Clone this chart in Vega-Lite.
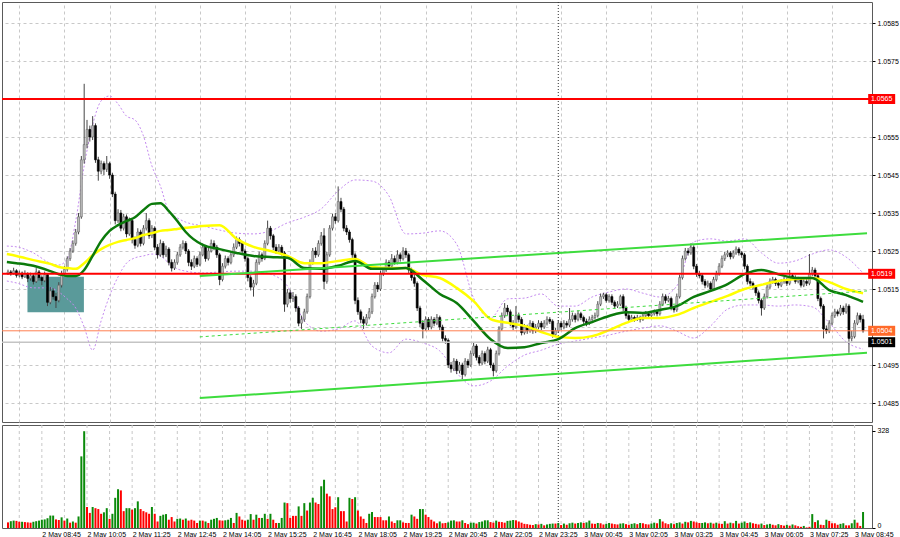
{
"$schema":"https://vega.github.io/schema/vega-lite/v6.json",
"background":"#ffffff",
"padding":{"left":0,"right":0,"top":1,"bottom":0},
"spacing":1,
"resolve":{"scale":{"x":"independent"},"axis":{"x":"independent"}},
"config":{"view":{"stroke":"#5a5a5a","strokeWidth":1},"font":"Liberation Sans"},
"datasets":{
"k":[
{"t":"2022-05-02T07:45","o":1.0519,"h":1.05201,"l":1.05187,"c":1.05195,"v":19,"d":"r"},
{"t":"2022-05-02T07:50","o":1.05195,"h":1.052,"l":1.05185,"c":1.0519,"v":23,"d":"g"},
{"t":"2022-05-02T07:55","o":1.0519,"h":1.05206,"l":1.05188,"c":1.05198,"v":25,"d":"g"},
{"t":"2022-05-02T08:00","o":1.05198,"h":1.05202,"l":1.0518,"c":1.05186,"v":24,"d":"r"},
{"t":"2022-05-02T08:05","o":1.05186,"h":1.05198,"l":1.05181,"c":1.05192,"v":21,"d":"r"},
{"t":"2022-05-02T08:10","o":1.05192,"h":1.05196,"l":1.05176,"c":1.05182,"v":21,"d":"g"},
{"t":"2022-05-02T08:15","o":1.05182,"h":1.05199,"l":1.05179,"c":1.0519,"v":20,"d":"r"},
{"t":"2022-05-02T08:20","o":1.0519,"h":1.05194,"l":1.05168,"c":1.05178,"v":19,"d":"r"},
{"t":"2022-05-02T08:25","o":1.05178,"h":1.05193,"l":1.05172,"c":1.05185,"v":18,"d":"r"},
{"t":"2022-05-02T08:30","o":1.05185,"h":1.0519,"l":1.05162,"c":1.0517,"v":21,"d":"g"},
{"t":"2022-05-02T08:35","o":1.0517,"h":1.05205,"l":1.05166,"c":1.05195,"v":23,"d":"g"},
{"t":"2022-05-02T08:40","o":1.05195,"h":1.052,"l":1.05172,"c":1.0518,"v":25,"d":"g"},
{"t":"2022-05-02T08:45","o":1.0518,"h":1.05186,"l":1.0516,"c":1.05172,"v":28,"d":"g"},
{"t":"2022-05-02T08:50","o":1.05172,"h":1.05196,"l":1.05168,"c":1.05188,"v":29,"d":"g"},
{"t":"2022-05-02T08:55","o":1.05188,"h":1.05192,"l":1.05105,"c":1.05115,"v":33,"d":"g"},
{"t":"2022-05-02T09:00","o":1.05115,"h":1.05155,"l":1.0511,"c":1.05145,"v":42,"d":"g"},
{"t":"2022-05-02T09:05","o":1.05145,"h":1.05152,"l":1.05122,"c":1.0513,"v":42,"d":"g"},
{"t":"2022-05-02T09:10","o":1.0513,"h":1.0514,"l":1.051,"c":1.0512,"v":29,"d":"r"},
{"t":"2022-05-02T09:15","o":1.0512,"h":1.05168,"l":1.05115,"c":1.0516,"v":27,"d":"r"},
{"t":"2022-05-02T09:20","o":1.0516,"h":1.05198,"l":1.05154,"c":1.0519,"v":36,"d":"g"},
{"t":"2022-05-02T09:25","o":1.0519,"h":1.0521,"l":1.05184,"c":1.05202,"v":25,"d":"r"},
{"t":"2022-05-02T09:30","o":1.05202,"h":1.05236,"l":1.05196,"c":1.0523,"v":32,"d":"g"},
{"t":"2022-05-02T09:35","o":1.0523,"h":1.05258,"l":1.05224,"c":1.0525,"v":18,"d":"r"},
{"t":"2022-05-02T09:40","o":1.0525,"h":1.05278,"l":1.05245,"c":1.0527,"v":22,"d":"g"},
{"t":"2022-05-02T09:45","o":1.0527,"h":1.05308,"l":1.05264,"c":1.053,"v":18,"d":"r"},
{"t":"2022-05-02T09:50","o":1.053,"h":1.0535,"l":1.05294,"c":1.0534,"v":39,"d":"g"},
{"t":"2022-05-02T09:55","o":1.0534,"h":1.055,"l":1.05335,"c":1.0549,"v":242,"d":"g"},
{"t":"2022-05-02T10:00","o":1.0549,"h":1.0569,"l":1.0548,"c":1.0553,"v":327,"d":"g"},
{"t":"2022-05-02T10:05","o":1.0553,"h":1.05595,"l":1.0552,"c":1.0557,"v":71,"d":"r"},
{"t":"2022-05-02T10:10","o":1.0557,"h":1.0558,"l":1.05538,"c":1.0555,"v":51,"d":"r"},
{"t":"2022-05-02T10:15","o":1.0555,"h":1.05605,"l":1.05542,"c":1.0558,"v":71,"d":"g"},
{"t":"2022-05-02T10:20","o":1.0558,"h":1.05586,"l":1.05482,"c":1.0549,"v":67,"d":"r"},
{"t":"2022-05-02T10:25","o":1.0549,"h":1.05498,"l":1.05435,"c":1.0546,"v":64,"d":"r"},
{"t":"2022-05-02T10:30","o":1.0546,"h":1.05488,"l":1.05452,"c":1.0548,"v":48,"d":"r"},
{"t":"2022-05-02T10:35","o":1.0548,"h":1.05486,"l":1.0545,"c":1.05465,"v":53,"d":"g"},
{"t":"2022-05-02T10:40","o":1.05465,"h":1.055,"l":1.05458,"c":1.0548,"v":67,"d":"g"},
{"t":"2022-05-02T10:45","o":1.0548,"h":1.05485,"l":1.0544,"c":1.0545,"v":31,"d":"r"},
{"t":"2022-05-02T10:50","o":1.0545,"h":1.05456,"l":1.05392,"c":1.054,"v":48,"d":"g"},
{"t":"2022-05-02T10:55","o":1.054,"h":1.05406,"l":1.0532,"c":1.0533,"v":102,"d":"g"},
{"t":"2022-05-02T11:00","o":1.0533,"h":1.0536,"l":1.05324,"c":1.0535,"v":131,"d":"g"},
{"t":"2022-05-02T11:05","o":1.0535,"h":1.05358,"l":1.05302,"c":1.0531,"v":127,"d":"r"},
{"t":"2022-05-02T11:10","o":1.0531,"h":1.05348,"l":1.05304,"c":1.0534,"v":57,"d":"r"},
{"t":"2022-05-02T11:15","o":1.0534,"h":1.05346,"l":1.05286,"c":1.05295,"v":67,"d":"g"},
{"t":"2022-05-02T11:20","o":1.05295,"h":1.05338,"l":1.0529,"c":1.0533,"v":67,"d":"g"},
{"t":"2022-05-02T11:25","o":1.0533,"h":1.05335,"l":1.0527,"c":1.0528,"v":62,"d":"r"},
{"t":"2022-05-02T11:30","o":1.0528,"h":1.05288,"l":1.05256,"c":1.05265,"v":67,"d":"g"},
{"t":"2022-05-02T11:35","o":1.05265,"h":1.0531,"l":1.0526,"c":1.053,"v":90,"d":"g"},
{"t":"2022-05-02T11:40","o":1.053,"h":1.05306,"l":1.05262,"c":1.0527,"v":64,"d":"r"},
{"t":"2022-05-02T11:45","o":1.0527,"h":1.05318,"l":1.05265,"c":1.0531,"v":57,"d":"r"},
{"t":"2022-05-02T11:50","o":1.0531,"h":1.0535,"l":1.05304,"c":1.0533,"v":53,"d":"r"},
{"t":"2022-05-02T11:55","o":1.0533,"h":1.05336,"l":1.05282,"c":1.0529,"v":48,"d":"r"},
{"t":"2022-05-02T12:00","o":1.0529,"h":1.05318,"l":1.05284,"c":1.0531,"v":71,"d":"g"},
{"t":"2022-05-02T12:05","o":1.0531,"h":1.05315,"l":1.05252,"c":1.0526,"v":48,"d":"r"},
{"t":"2022-05-02T12:10","o":1.0526,"h":1.05268,"l":1.0523,"c":1.0524,"v":22,"d":"r"},
{"t":"2022-05-02T12:15","o":1.0524,"h":1.0528,"l":1.05235,"c":1.0527,"v":41,"d":"g"},
{"t":"2022-05-02T12:20","o":1.0527,"h":1.05276,"l":1.05232,"c":1.0524,"v":45,"d":"g"},
{"t":"2022-05-02T12:25","o":1.0524,"h":1.05264,"l":1.05234,"c":1.05255,"v":47,"d":"g"},
{"t":"2022-05-02T12:30","o":1.05255,"h":1.0526,"l":1.05212,"c":1.0522,"v":28,"d":"r"},
{"t":"2022-05-02T12:35","o":1.0522,"h":1.05228,"l":1.05196,"c":1.05205,"v":37,"d":"r"},
{"t":"2022-05-02T12:40","o":1.05205,"h":1.05228,"l":1.052,"c":1.0522,"v":22,"d":"r"},
{"t":"2022-05-02T12:45","o":1.0522,"h":1.05248,"l":1.05214,"c":1.0524,"v":31,"d":"g"},
{"t":"2022-05-02T12:50","o":1.0524,"h":1.05268,"l":1.05235,"c":1.0526,"v":32,"d":"g"},
{"t":"2022-05-02T12:55","o":1.0526,"h":1.05278,"l":1.05254,"c":1.0527,"v":28,"d":"r"},
{"t":"2022-05-02T13:00","o":1.0527,"h":1.05276,"l":1.05242,"c":1.0525,"v":32,"d":"g"},
{"t":"2022-05-02T13:05","o":1.0525,"h":1.05255,"l":1.0521,"c":1.0522,"v":25,"d":"r"},
{"t":"2022-05-02T13:10","o":1.0522,"h":1.05228,"l":1.052,"c":1.0521,"v":28,"d":"r"},
{"t":"2022-05-02T13:15","o":1.0521,"h":1.05238,"l":1.05205,"c":1.0523,"v":25,"d":"r"},
{"t":"2022-05-02T13:20","o":1.0523,"h":1.05236,"l":1.05208,"c":1.05215,"v":17,"d":"r"},
{"t":"2022-05-02T13:25","o":1.05215,"h":1.05248,"l":1.0521,"c":1.0524,"v":25,"d":"g"},
{"t":"2022-05-02T13:30","o":1.0524,"h":1.0527,"l":1.05236,"c":1.0526,"v":25,"d":"r"},
{"t":"2022-05-02T13:35","o":1.0526,"h":1.05265,"l":1.05222,"c":1.0523,"v":22,"d":"g"},
{"t":"2022-05-02T13:40","o":1.0523,"h":1.05258,"l":1.05225,"c":1.0525,"v":17,"d":"r"},
{"t":"2022-05-02T13:45","o":1.0525,"h":1.0528,"l":1.05246,"c":1.0527,"v":28,"d":"g"},
{"t":"2022-05-02T13:50","o":1.0527,"h":1.05278,"l":1.05252,"c":1.0526,"v":31,"d":"g"},
{"t":"2022-05-02T13:55","o":1.0526,"h":1.05266,"l":1.05232,"c":1.0524,"v":34,"d":"g"},
{"t":"2022-05-02T14:00","o":1.0524,"h":1.05245,"l":1.0516,"c":1.05175,"v":26,"d":"r"},
{"t":"2022-05-02T14:05","o":1.05175,"h":1.05218,"l":1.0517,"c":1.0521,"v":25,"d":"r"},
{"t":"2022-05-02T14:10","o":1.0521,"h":1.05238,"l":1.05204,"c":1.0523,"v":26,"d":"g"},
{"t":"2022-05-02T14:15","o":1.0523,"h":1.05236,"l":1.05212,"c":1.0522,"v":28,"d":"g"},
{"t":"2022-05-02T14:20","o":1.0522,"h":1.05248,"l":1.05215,"c":1.0524,"v":34,"d":"g"},
{"t":"2022-05-02T14:25","o":1.0524,"h":1.0527,"l":1.05234,"c":1.0526,"v":17,"d":"r"},
{"t":"2022-05-02T14:30","o":1.0526,"h":1.05288,"l":1.05255,"c":1.0528,"v":51,"d":"g"},
{"t":"2022-05-02T14:35","o":1.0528,"h":1.05286,"l":1.05262,"c":1.0527,"v":39,"d":"r"},
{"t":"2022-05-02T14:40","o":1.0527,"h":1.05275,"l":1.05242,"c":1.0525,"v":28,"d":"r"},
{"t":"2022-05-02T14:45","o":1.0525,"h":1.05256,"l":1.05222,"c":1.0523,"v":25,"d":"r"},
{"t":"2022-05-02T14:50","o":1.0523,"h":1.05235,"l":1.0517,"c":1.0518,"v":28,"d":"g"},
{"t":"2022-05-02T14:55","o":1.0518,"h":1.05186,"l":1.05146,"c":1.05155,"v":47,"d":"g"},
{"t":"2022-05-02T15:00","o":1.05155,"h":1.05174,"l":1.0513,"c":1.05165,"v":28,"d":"r"},
{"t":"2022-05-02T15:05","o":1.05165,"h":1.05228,"l":1.0516,"c":1.0522,"v":45,"d":"g"},
{"t":"2022-05-02T15:10","o":1.0522,"h":1.05248,"l":1.05214,"c":1.0524,"v":34,"d":"r"},
{"t":"2022-05-02T15:15","o":1.0524,"h":1.05246,"l":1.05222,"c":1.0523,"v":34,"d":"g"},
{"t":"2022-05-02T15:20","o":1.0523,"h":1.05278,"l":1.05226,"c":1.0527,"v":48,"d":"g"},
{"t":"2022-05-02T15:25","o":1.0527,"h":1.0533,"l":1.05265,"c":1.0531,"v":31,"d":"r"},
{"t":"2022-05-02T15:30","o":1.0531,"h":1.05316,"l":1.0528,"c":1.0529,"v":48,"d":"g"},
{"t":"2022-05-02T15:35","o":1.0529,"h":1.05295,"l":1.05252,"c":1.0526,"v":28,"d":"r"},
{"t":"2022-05-02T15:40","o":1.0526,"h":1.05268,"l":1.05242,"c":1.0525,"v":17,"d":"r"},
{"t":"2022-05-02T15:45","o":1.0525,"h":1.05268,"l":1.05244,"c":1.0526,"v":17,"d":"g"},
{"t":"2022-05-02T15:50","o":1.0526,"h":1.05266,"l":1.05238,"c":1.05245,"v":34,"d":"g"},
{"t":"2022-05-02T15:55","o":1.05245,"h":1.0525,"l":1.0509,"c":1.0511,"v":86,"d":"g"},
{"t":"2022-05-02T16:00","o":1.0511,"h":1.0515,"l":1.05102,"c":1.0514,"v":84,"d":"r"},
{"t":"2022-05-02T16:05","o":1.0514,"h":1.05148,"l":1.05114,"c":1.05125,"v":34,"d":"r"},
{"t":"2022-05-02T16:10","o":1.05125,"h":1.05142,"l":1.05116,"c":1.0513,"v":41,"d":"r"},
{"t":"2022-05-02T16:15","o":1.0513,"h":1.05136,"l":1.0509,"c":1.051,"v":41,"d":"r"},
{"t":"2022-05-02T16:20","o":1.051,"h":1.05105,"l":1.05052,"c":1.0506,"v":73,"d":"g"},
{"t":"2022-05-02T16:25","o":1.0506,"h":1.0508,"l":1.05045,"c":1.0507,"v":41,"d":"r"},
{"t":"2022-05-02T16:30","o":1.0507,"h":1.05098,"l":1.05064,"c":1.0509,"v":84,"d":"g"},
{"t":"2022-05-02T16:35","o":1.0509,"h":1.05138,"l":1.05085,"c":1.0513,"v":59,"d":"r"},
{"t":"2022-05-02T16:40","o":1.0513,"h":1.05228,"l":1.05125,"c":1.0522,"v":86,"d":"g"},
{"t":"2022-05-02T16:45","o":1.0522,"h":1.05258,"l":1.05214,"c":1.0525,"v":102,"d":"g"},
{"t":"2022-05-02T16:50","o":1.0525,"h":1.0526,"l":1.05232,"c":1.0524,"v":86,"d":"r"},
{"t":"2022-05-02T16:55","o":1.0524,"h":1.05278,"l":1.05235,"c":1.0527,"v":81,"d":"r"},
{"t":"2022-05-02T17:00","o":1.0527,"h":1.053,"l":1.05264,"c":1.0529,"v":141,"d":"g"},
{"t":"2022-05-02T17:05","o":1.0529,"h":1.0531,"l":1.0515,"c":1.0517,"v":163,"d":"g"},
{"t":"2022-05-02T17:10","o":1.0517,"h":1.05248,"l":1.05164,"c":1.0524,"v":116,"d":"r"},
{"t":"2022-05-02T17:15","o":1.0524,"h":1.05318,"l":1.05235,"c":1.0531,"v":107,"d":"r"},
{"t":"2022-05-02T17:20","o":1.0531,"h":1.05348,"l":1.05304,"c":1.0534,"v":64,"d":"r"},
{"t":"2022-05-02T17:25","o":1.0534,"h":1.0535,"l":1.05322,"c":1.0533,"v":70,"d":"r"},
{"t":"2022-05-02T17:30","o":1.0533,"h":1.0542,"l":1.05325,"c":1.0538,"v":104,"d":"g"},
{"t":"2022-05-02T17:35","o":1.0538,"h":1.0539,"l":1.05352,"c":1.0536,"v":57,"d":"r"},
{"t":"2022-05-02T17:40","o":1.0536,"h":1.05366,"l":1.05302,"c":1.0531,"v":57,"d":"r"},
{"t":"2022-05-02T17:45","o":1.0531,"h":1.05318,"l":1.05292,"c":1.053,"v":22,"d":"r"},
{"t":"2022-05-02T17:50","o":1.053,"h":1.05306,"l":1.05272,"c":1.0528,"v":102,"d":"g"},
{"t":"2022-05-02T17:55","o":1.0528,"h":1.05285,"l":1.05232,"c":1.0524,"v":98,"d":"r"},
{"t":"2022-05-02T18:00","o":1.0524,"h":1.05246,"l":1.0511,"c":1.0512,"v":104,"d":"g"},
{"t":"2022-05-02T18:05","o":1.0512,"h":1.05128,"l":1.05082,"c":1.0509,"v":59,"d":"r"},
{"t":"2022-05-02T18:10","o":1.0509,"h":1.05096,"l":1.0506,"c":1.0507,"v":39,"d":"r"},
{"t":"2022-05-02T18:15","o":1.0507,"h":1.05078,"l":1.05045,"c":1.0506,"v":31,"d":"r"},
{"t":"2022-05-02T18:20","o":1.0506,"h":1.05084,"l":1.05054,"c":1.05075,"v":17,"d":"r"},
{"t":"2022-05-02T18:25","o":1.05075,"h":1.051,"l":1.0507,"c":1.0509,"v":48,"d":"g"},
{"t":"2022-05-02T18:30","o":1.0509,"h":1.05138,"l":1.05084,"c":1.0513,"v":54,"d":"g"},
{"t":"2022-05-02T18:35","o":1.0513,"h":1.05168,"l":1.05125,"c":1.0516,"v":37,"d":"r"},
{"t":"2022-05-02T18:40","o":1.0516,"h":1.05168,"l":1.05142,"c":1.0515,"v":37,"d":"r"},
{"t":"2022-05-02T18:45","o":1.0515,"h":1.05198,"l":1.05145,"c":1.0519,"v":37,"d":"r"},
{"t":"2022-05-02T18:50","o":1.0519,"h":1.05208,"l":1.05184,"c":1.052,"v":26,"d":"r"},
{"t":"2022-05-02T18:55","o":1.052,"h":1.05228,"l":1.05195,"c":1.0522,"v":26,"d":"r"},
{"t":"2022-05-02T19:00","o":1.0522,"h":1.05226,"l":1.05202,"c":1.0521,"v":39,"d":"g"},
{"t":"2022-05-02T19:05","o":1.0521,"h":1.05242,"l":1.05205,"c":1.0523,"v":22,"d":"r"},
{"t":"2022-05-02T19:10","o":1.0523,"h":1.05238,"l":1.05214,"c":1.0522,"v":17,"d":"r"},
{"t":"2022-05-02T19:15","o":1.0522,"h":1.05252,"l":1.05215,"c":1.0524,"v":26,"d":"g"},
{"t":"2022-05-02T19:20","o":1.0524,"h":1.05246,"l":1.05222,"c":1.0523,"v":26,"d":"g"},
{"t":"2022-05-02T19:25","o":1.0523,"h":1.0526,"l":1.05225,"c":1.0525,"v":19,"d":"r"},
{"t":"2022-05-02T19:30","o":1.0525,"h":1.05258,"l":1.05232,"c":1.0524,"v":17,"d":"r"},
{"t":"2022-05-02T19:35","o":1.0524,"h":1.05245,"l":1.05192,"c":1.052,"v":17,"d":"r"},
{"t":"2022-05-02T19:40","o":1.052,"h":1.05206,"l":1.05172,"c":1.0518,"v":45,"d":"g"},
{"t":"2022-05-02T19:45","o":1.0518,"h":1.05188,"l":1.05156,"c":1.05165,"v":39,"d":"r"},
{"t":"2022-05-02T19:50","o":1.05165,"h":1.0517,"l":1.05092,"c":1.051,"v":31,"d":"r"},
{"t":"2022-05-02T19:55","o":1.051,"h":1.05106,"l":1.0505,"c":1.0506,"v":64,"d":"g"},
{"t":"2022-05-02T20:00","o":1.0506,"h":1.05068,"l":1.0502,"c":1.05045,"v":64,"d":"g"},
{"t":"2022-05-02T20:05","o":1.05045,"h":1.05078,"l":1.0504,"c":1.0507,"v":45,"d":"r"},
{"t":"2022-05-02T20:10","o":1.0507,"h":1.05076,"l":1.05042,"c":1.0505,"v":37,"d":"r"},
{"t":"2022-05-02T20:15","o":1.0505,"h":1.05078,"l":1.05044,"c":1.0507,"v":28,"d":"r"},
{"t":"2022-05-02T20:20","o":1.0507,"h":1.05076,"l":1.05052,"c":1.0506,"v":22,"d":"r"},
{"t":"2022-05-02T20:25","o":1.0506,"h":1.05084,"l":1.05055,"c":1.05075,"v":16,"d":"r"},
{"t":"2022-05-02T20:30","o":1.05075,"h":1.0508,"l":1.05042,"c":1.0505,"v":22,"d":"g"},
{"t":"2022-05-02T20:35","o":1.0505,"h":1.05056,"l":1.05012,"c":1.0502,"v":16,"d":"r"},
{"t":"2022-05-02T20:40","o":1.0502,"h":1.05028,"l":1.05006,"c":1.05015,"v":17,"d":"r"},
{"t":"2022-05-02T20:45","o":1.05015,"h":1.0502,"l":1.04942,"c":1.0495,"v":19,"d":"g"},
{"t":"2022-05-02T20:50","o":1.0495,"h":1.04958,"l":1.0493,"c":1.0494,"v":25,"d":"g"},
{"t":"2022-05-02T20:55","o":1.0494,"h":1.04968,"l":1.04934,"c":1.0496,"v":26,"d":"g"},
{"t":"2022-05-02T21:00","o":1.0496,"h":1.04966,"l":1.04926,"c":1.04935,"v":22,"d":"r"},
{"t":"2022-05-02T21:05","o":1.04935,"h":1.04958,"l":1.04928,"c":1.0495,"v":22,"d":"r"},
{"t":"2022-05-02T21:10","o":1.0495,"h":1.04956,"l":1.04913,"c":1.04925,"v":26,"d":"g"},
{"t":"2022-05-02T21:15","o":1.04925,"h":1.04968,"l":1.0492,"c":1.0496,"v":17,"d":"r"},
{"t":"2022-05-02T21:20","o":1.0496,"h":1.04966,"l":1.04942,"c":1.0495,"v":13,"d":"r"},
{"t":"2022-05-02T21:25","o":1.0495,"h":1.04988,"l":1.04945,"c":1.0498,"v":18,"d":"g"},
{"t":"2022-05-02T21:30","o":1.0498,"h":1.0501,"l":1.04974,"c":1.05,"v":18,"d":"g"},
{"t":"2022-05-02T21:35","o":1.05,"h":1.05005,"l":1.04962,"c":1.0497,"v":15,"d":"r"},
{"t":"2022-05-02T21:40","o":1.0497,"h":1.04976,"l":1.04948,"c":1.04955,"v":20,"d":"g"},
{"t":"2022-05-02T21:45","o":1.04955,"h":1.04988,"l":1.0495,"c":1.0498,"v":22,"d":"g"},
{"t":"2022-05-02T21:50","o":1.0498,"h":1.04986,"l":1.04952,"c":1.0496,"v":26,"d":"g"},
{"t":"2022-05-02T21:55","o":1.0496,"h":1.04998,"l":1.04955,"c":1.0499,"v":26,"d":"g"},
{"t":"2022-05-02T22:00","o":1.0499,"h":1.04995,"l":1.04942,"c":1.0495,"v":20,"d":"r"},
{"t":"2022-05-02T22:05","o":1.0495,"h":1.04956,"l":1.0492,"c":1.04935,"v":18,"d":"r"},
{"t":"2022-05-02T22:10","o":1.04935,"h":1.04988,"l":1.0493,"c":1.0498,"v":25,"d":"g"},
{"t":"2022-05-02T22:15","o":1.0498,"h":1.05052,"l":1.04975,"c":1.05045,"v":21,"d":"r"},
{"t":"2022-05-02T22:20","o":1.05045,"h":1.05088,"l":1.0504,"c":1.0508,"v":20,"d":"r"},
{"t":"2022-05-02T22:25","o":1.0508,"h":1.05113,"l":1.05074,"c":1.051,"v":18,"d":"r"},
{"t":"2022-05-02T22:30","o":1.051,"h":1.05108,"l":1.05082,"c":1.0509,"v":24,"d":"g"},
{"t":"2022-05-02T22:35","o":1.0509,"h":1.05096,"l":1.05052,"c":1.0506,"v":25,"d":"g"},
{"t":"2022-05-02T22:40","o":1.0506,"h":1.05068,"l":1.05042,"c":1.0505,"v":27,"d":"g"},
{"t":"2022-05-02T22:45","o":1.0505,"h":1.05105,"l":1.05045,"c":1.0508,"v":26,"d":"r"},
{"t":"2022-05-02T22:50","o":1.0508,"h":1.05088,"l":1.05062,"c":1.0507,"v":22,"d":"r"},
{"t":"2022-05-02T22:55","o":1.0507,"h":1.05076,"l":1.05028,"c":1.05035,"v":18,"d":"r"},
{"t":"2022-05-02T23:00","o":1.05035,"h":1.05058,"l":1.0503,"c":1.0505,"v":14,"d":"r"},
{"t":"2022-05-02T23:05","o":1.0505,"h":1.05056,"l":1.05032,"c":1.0504,"v":13,"d":"r"},
{"t":"2022-05-02T23:10","o":1.0504,"h":1.05068,"l":1.05035,"c":1.0506,"v":11,"d":"r"},
{"t":"2022-05-02T23:15","o":1.0506,"h":1.05066,"l":1.05032,"c":1.0504,"v":10,"d":"r"},
{"t":"2022-05-02T23:20","o":1.0504,"h":1.05058,"l":1.05034,"c":1.0505,"v":13,"d":"g"},
{"t":"2022-05-02T23:25","o":1.0505,"h":1.05068,"l":1.05044,"c":1.0506,"v":12,"d":"r"},
{"t":"2022-05-02T23:30","o":1.0506,"h":1.05066,"l":1.05042,"c":1.0505,"v":14,"d":"g"},
{"t":"2022-05-02T23:35","o":1.0505,"h":1.05068,"l":1.05045,"c":1.0506,"v":9,"d":"r"},
{"t":"2022-05-02T23:40","o":1.0506,"h":1.05078,"l":1.05054,"c":1.0507,"v":12,"d":"g"},
{"t":"2022-05-02T23:45","o":1.0507,"h":1.05076,"l":1.05058,"c":1.05065,"v":14,"d":"g"},
{"t":"2022-05-02T23:50","o":1.05065,"h":1.0507,"l":1.05022,"c":1.0503,"v":15,"d":"g"},
{"t":"2022-05-02T23:55","o":1.0503,"h":1.05048,"l":1.05024,"c":1.0504,"v":15,"d":"r"},
{"t":"2022-05-03T00:00","o":1.0504,"h":1.05068,"l":1.05035,"c":1.0506,"v":17,"d":"g"},
{"t":"2022-05-03T00:05","o":1.0506,"h":1.05066,"l":1.05042,"c":1.0505,"v":10,"d":"r"},
{"t":"2022-05-03T00:10","o":1.0505,"h":1.05068,"l":1.05044,"c":1.0506,"v":15,"d":"g"},
{"t":"2022-05-03T00:15","o":1.0506,"h":1.05066,"l":1.05048,"c":1.05055,"v":11,"d":"r"},
{"t":"2022-05-03T00:20","o":1.05055,"h":1.051,"l":1.0505,"c":1.0507,"v":16,"d":"g"},
{"t":"2022-05-03T00:25","o":1.0507,"h":1.05088,"l":1.05064,"c":1.0508,"v":18,"d":"g"},
{"t":"2022-05-03T00:30","o":1.0508,"h":1.05086,"l":1.05062,"c":1.0507,"v":15,"d":"r"},
{"t":"2022-05-03T00:35","o":1.0507,"h":1.05094,"l":1.05065,"c":1.05085,"v":17,"d":"g"},
{"t":"2022-05-03T00:40","o":1.05085,"h":1.0509,"l":1.05068,"c":1.05075,"v":19,"d":"g"},
{"t":"2022-05-03T00:45","o":1.05075,"h":1.0508,"l":1.05058,"c":1.05065,"v":17,"d":"r"},
{"t":"2022-05-03T00:50","o":1.05065,"h":1.05072,"l":1.05052,"c":1.0506,"v":19,"d":"g"},
{"t":"2022-05-03T00:55","o":1.0506,"h":1.05078,"l":1.05055,"c":1.0507,"v":25,"d":"g"},
{"t":"2022-05-03T01:00","o":1.0507,"h":1.05082,"l":1.05064,"c":1.05075,"v":15,"d":"r"},
{"t":"2022-05-03T01:05","o":1.05075,"h":1.05088,"l":1.0507,"c":1.0508,"v":14,"d":"r"},
{"t":"2022-05-03T01:10","o":1.0508,"h":1.05118,"l":1.05075,"c":1.0511,"v":17,"d":"g"},
{"t":"2022-05-03T01:15","o":1.0511,"h":1.05138,"l":1.05105,"c":1.0513,"v":16,"d":"r"},
{"t":"2022-05-03T01:20","o":1.0513,"h":1.0514,"l":1.05124,"c":1.05135,"v":12,"d":"r"},
{"t":"2022-05-03T01:25","o":1.05135,"h":1.0514,"l":1.05114,"c":1.0512,"v":14,"d":"g"},
{"t":"2022-05-03T01:30","o":1.0512,"h":1.05136,"l":1.05114,"c":1.0513,"v":17,"d":"g"},
{"t":"2022-05-03T01:35","o":1.0513,"h":1.05136,"l":1.05108,"c":1.05115,"v":15,"d":"r"},
{"t":"2022-05-03T01:40","o":1.05115,"h":1.0512,"l":1.05098,"c":1.05105,"v":13,"d":"r"},
{"t":"2022-05-03T01:45","o":1.05105,"h":1.05118,"l":1.051,"c":1.0511,"v":12,"d":"r"},
{"t":"2022-05-03T01:50","o":1.0511,"h":1.05135,"l":1.05105,"c":1.0513,"v":15,"d":"g"},
{"t":"2022-05-03T01:55","o":1.0513,"h":1.05136,"l":1.05092,"c":1.051,"v":16,"d":"g"},
{"t":"2022-05-03T02:00","o":1.051,"h":1.05106,"l":1.05072,"c":1.0508,"v":13,"d":"r"},
{"t":"2022-05-03T02:05","o":1.0508,"h":1.05086,"l":1.05064,"c":1.0507,"v":11,"d":"r"},
{"t":"2022-05-03T02:10","o":1.0507,"h":1.05082,"l":1.05065,"c":1.05075,"v":14,"d":"g"},
{"t":"2022-05-03T02:15","o":1.05075,"h":1.0508,"l":1.05064,"c":1.0507,"v":16,"d":"g"},
{"t":"2022-05-03T02:20","o":1.0507,"h":1.05082,"l":1.05066,"c":1.05075,"v":13,"d":"r"},
{"t":"2022-05-03T02:25","o":1.05075,"h":1.0508,"l":1.05062,"c":1.0507,"v":17,"d":"g"},
{"t":"2022-05-03T02:30","o":1.0507,"h":1.05086,"l":1.05066,"c":1.0508,"v":16,"d":"r"},
{"t":"2022-05-03T02:35","o":1.0508,"h":1.05092,"l":1.05075,"c":1.05085,"v":13,"d":"r"},
{"t":"2022-05-03T02:40","o":1.05085,"h":1.0509,"l":1.05074,"c":1.0508,"v":12,"d":"r"},
{"t":"2022-05-03T02:45","o":1.0508,"h":1.05092,"l":1.05076,"c":1.05085,"v":15,"d":"g"},
{"t":"2022-05-03T02:50","o":1.05085,"h":1.05096,"l":1.0508,"c":1.0509,"v":18,"d":"g"},
{"t":"2022-05-03T02:55","o":1.0509,"h":1.05096,"l":1.05078,"c":1.05085,"v":16,"d":"r"},
{"t":"2022-05-03T03:00","o":1.05085,"h":1.05118,"l":1.0508,"c":1.0511,"v":30,"d":"g"},
{"t":"2022-05-03T03:05","o":1.0511,"h":1.05138,"l":1.05105,"c":1.0513,"v":22,"d":"r"},
{"t":"2022-05-03T03:10","o":1.0513,"h":1.05136,"l":1.05112,"c":1.0512,"v":16,"d":"r"},
{"t":"2022-05-03T03:15","o":1.0512,"h":1.05132,"l":1.05115,"c":1.05125,"v":13,"d":"r"},
{"t":"2022-05-03T03:20","o":1.05125,"h":1.0513,"l":1.05094,"c":1.051,"v":16,"d":"g"},
{"t":"2022-05-03T03:25","o":1.051,"h":1.05106,"l":1.05088,"c":1.05095,"v":13,"d":"r"},
{"t":"2022-05-03T03:30","o":1.05095,"h":1.05138,"l":1.0509,"c":1.0513,"v":17,"d":"g"},
{"t":"2022-05-03T03:35","o":1.0513,"h":1.05188,"l":1.05125,"c":1.0518,"v":19,"d":"g"},
{"t":"2022-05-03T03:40","o":1.0518,"h":1.05238,"l":1.05175,"c":1.0523,"v":15,"d":"r"},
{"t":"2022-05-03T03:45","o":1.0523,"h":1.05258,"l":1.05225,"c":1.0525,"v":21,"d":"g"},
{"t":"2022-05-03T03:50","o":1.0525,"h":1.05258,"l":1.05238,"c":1.05245,"v":19,"d":"r"},
{"t":"2022-05-03T03:55","o":1.05245,"h":1.0527,"l":1.0524,"c":1.0526,"v":24,"d":"g"},
{"t":"2022-05-03T04:00","o":1.0526,"h":1.05265,"l":1.05202,"c":1.0521,"v":22,"d":"r"},
{"t":"2022-05-03T04:05","o":1.0521,"h":1.05216,"l":1.05182,"c":1.0519,"v":19,"d":"r"},
{"t":"2022-05-03T04:10","o":1.0519,"h":1.05198,"l":1.05178,"c":1.05185,"v":17,"d":"r"},
{"t":"2022-05-03T04:15","o":1.05185,"h":1.0519,"l":1.05162,"c":1.0517,"v":17,"d":"g"},
{"t":"2022-05-03T04:20","o":1.0517,"h":1.05176,"l":1.05152,"c":1.0516,"v":19,"d":"g"},
{"t":"2022-05-03T04:25","o":1.0516,"h":1.05172,"l":1.05154,"c":1.05165,"v":16,"d":"r"},
{"t":"2022-05-03T04:30","o":1.05165,"h":1.0517,"l":1.05142,"c":1.0515,"v":18,"d":"g"},
{"t":"2022-05-03T04:35","o":1.0515,"h":1.05182,"l":1.05145,"c":1.05175,"v":15,"d":"r"},
{"t":"2022-05-03T04:40","o":1.05175,"h":1.05198,"l":1.0517,"c":1.0519,"v":18,"d":"g"},
{"t":"2022-05-03T04:45","o":1.0519,"h":1.05218,"l":1.05185,"c":1.0521,"v":15,"d":"r"},
{"t":"2022-05-03T04:50","o":1.0521,"h":1.05238,"l":1.05205,"c":1.0523,"v":14,"d":"r"},
{"t":"2022-05-03T04:55","o":1.0523,"h":1.05248,"l":1.05224,"c":1.0524,"v":23,"d":"g"},
{"t":"2022-05-03T05:00","o":1.0524,"h":1.05252,"l":1.05234,"c":1.05245,"v":15,"d":"r"},
{"t":"2022-05-03T05:05","o":1.05245,"h":1.0525,"l":1.05228,"c":1.05235,"v":18,"d":"g"},
{"t":"2022-05-03T05:10","o":1.05235,"h":1.05252,"l":1.0523,"c":1.05245,"v":16,"d":"r"},
{"t":"2022-05-03T05:15","o":1.05245,"h":1.05262,"l":1.0524,"c":1.05255,"v":24,"d":"g"},
{"t":"2022-05-03T05:20","o":1.05255,"h":1.0526,"l":1.05238,"c":1.05245,"v":15,"d":"r"},
{"t":"2022-05-03T05:25","o":1.05245,"h":1.0525,"l":1.05232,"c":1.0524,"v":18,"d":"g"},
{"t":"2022-05-03T05:30","o":1.0524,"h":1.05245,"l":1.05202,"c":1.0521,"v":22,"d":"g"},
{"t":"2022-05-03T05:35","o":1.0521,"h":1.05215,"l":1.05162,"c":1.0517,"v":17,"d":"r"},
{"t":"2022-05-03T05:40","o":1.0517,"h":1.05178,"l":1.05158,"c":1.05165,"v":19,"d":"g"},
{"t":"2022-05-03T05:45","o":1.05165,"h":1.0517,"l":1.05148,"c":1.05155,"v":16,"d":"r"},
{"t":"2022-05-03T05:50","o":1.05155,"h":1.0516,"l":1.05132,"c":1.0514,"v":14,"d":"r"},
{"t":"2022-05-03T05:55","o":1.0514,"h":1.05146,"l":1.05112,"c":1.0512,"v":12,"d":"r"},
{"t":"2022-05-03T06:00","o":1.0512,"h":1.05125,"l":1.0508,"c":1.051,"v":15,"d":"g"},
{"t":"2022-05-03T06:05","o":1.051,"h":1.05138,"l":1.05095,"c":1.0513,"v":10,"d":"r"},
{"t":"2022-05-03T06:10","o":1.0513,"h":1.05162,"l":1.05125,"c":1.05155,"v":12,"d":"g"},
{"t":"2022-05-03T06:15","o":1.05155,"h":1.05178,"l":1.0515,"c":1.0517,"v":14,"d":"g"},
{"t":"2022-05-03T06:20","o":1.0517,"h":1.05182,"l":1.05164,"c":1.05175,"v":11,"d":"r"},
{"t":"2022-05-03T06:25","o":1.05175,"h":1.0518,"l":1.05158,"c":1.05165,"v":9,"d":"r"},
{"t":"2022-05-03T06:30","o":1.05165,"h":1.0517,"l":1.05152,"c":1.0516,"v":13,"d":"g"},
{"t":"2022-05-03T06:35","o":1.0516,"h":1.05176,"l":1.05155,"c":1.0517,"v":10,"d":"r"},
{"t":"2022-05-03T06:40","o":1.0517,"h":1.05182,"l":1.05164,"c":1.05175,"v":8,"d":"r"},
{"t":"2022-05-03T06:45","o":1.05175,"h":1.0518,"l":1.05158,"c":1.05165,"v":11,"d":"g"},
{"t":"2022-05-03T06:50","o":1.05165,"h":1.052,"l":1.0516,"c":1.05185,"v":8,"d":"r"},
{"t":"2022-05-03T06:55","o":1.05185,"h":1.05192,"l":1.05174,"c":1.0518,"v":12,"d":"g"},
{"t":"2022-05-03T07:00","o":1.0518,"h":1.05186,"l":1.05164,"c":1.0517,"v":9,"d":"r"},
{"t":"2022-05-03T07:05","o":1.0517,"h":1.05182,"l":1.05165,"c":1.05175,"v":6,"d":"r"},
{"t":"2022-05-03T07:10","o":1.05175,"h":1.0518,"l":1.05154,"c":1.0516,"v":4,"d":"r"},
{"t":"2022-05-03T07:15","o":1.0516,"h":1.05176,"l":1.05155,"c":1.0517,"v":7,"d":"g"},
{"t":"2022-05-03T07:20","o":1.0517,"h":1.05176,"l":1.05158,"c":1.05165,"v":2,"d":"r"},
{"t":"2022-05-03T07:25","o":1.05165,"h":1.05242,"l":1.0516,"c":1.0519,"v":4,"d":"r"},
{"t":"2022-05-03T07:30","o":1.0519,"h":1.05208,"l":1.05184,"c":1.052,"v":47,"d":"g"},
{"t":"2022-05-03T07:35","o":1.052,"h":1.05206,"l":1.05178,"c":1.05185,"v":20,"d":"r"},
{"t":"2022-05-03T07:40","o":1.05185,"h":1.0519,"l":1.05118,"c":1.05125,"v":26,"d":"g"},
{"t":"2022-05-03T07:45","o":1.05125,"h":1.0513,"l":1.05098,"c":1.05105,"v":11,"d":"r"},
{"t":"2022-05-03T07:50","o":1.05105,"h":1.0511,"l":1.0502,"c":1.05045,"v":10,"d":"r"},
{"t":"2022-05-03T07:55","o":1.05045,"h":1.05054,"l":1.05032,"c":1.0504,"v":28,"d":"g"},
{"t":"2022-05-03T08:00","o":1.0504,"h":1.05068,"l":1.05034,"c":1.0506,"v":24,"d":"r"},
{"t":"2022-05-03T08:05","o":1.0506,"h":1.05088,"l":1.05055,"c":1.0508,"v":16,"d":"r"},
{"t":"2022-05-03T08:10","o":1.0508,"h":1.05098,"l":1.05074,"c":1.0509,"v":16,"d":"r"},
{"t":"2022-05-03T08:15","o":1.0509,"h":1.05096,"l":1.05078,"c":1.05085,"v":11,"d":"r"},
{"t":"2022-05-03T08:20","o":1.05085,"h":1.05108,"l":1.0508,"c":1.051,"v":14,"d":"g"},
{"t":"2022-05-03T08:25","o":1.051,"h":1.05106,"l":1.05082,"c":1.0509,"v":16,"d":"g"},
{"t":"2022-05-03T08:30","o":1.0509,"h":1.05112,"l":1.05085,"c":1.05105,"v":9,"d":"r"},
{"t":"2022-05-03T08:35","o":1.05105,"h":1.0511,"l":1.04982,"c":1.0502,"v":9,"d":"r"},
{"t":"2022-05-03T08:40","o":1.0502,"h":1.0504,"l":1.05012,"c":1.05025,"v":16,"d":"g"},
{"t":"2022-05-03T08:45","o":1.05025,"h":1.05068,"l":1.0502,"c":1.0506,"v":28,"d":"g"},
{"t":"2022-05-03T08:50","o":1.0506,"h":1.05088,"l":1.05055,"c":1.0508,"v":18,"d":"r"},
{"t":"2022-05-03T08:55","o":1.0508,"h":1.05086,"l":1.05062,"c":1.0507,"v":7,"d":"r"},
{"t":"2022-05-03T09:00","o":1.0507,"h":1.05082,"l":1.05035,"c":1.0504,"v":54,"d":"g"}
],
"ind":[
{"t":"2022-05-02T07:43","ym":1.05242,"gm":1.05221,"bu":1.05263,"bl":1.05171},
{"t":"2022-05-02T08:00","ym":1.05237,"gm":1.05218,"bu":1.05261,"bl":1.05166},
{"t":"2022-05-02T08:30","ym":1.05226,"gm":1.05211,"bu":1.05245,"bl":1.05153},
{"t":"2022-05-02T09:00","ym":1.05216,"gm":1.05197,"bu":1.05218,"bl":1.05153},
{"t":"2022-05-02T09:15","ym":1.05208,"gm":1.05189,"bu":1.05213,"bl":1.05142},
{"t":"2022-05-02T09:30","ym":1.05205,"gm":1.05184,"bu":1.05229,"bl":1.05124},
{"t":"2022-05-02T09:45","ym":1.05203,"gm":1.05184,"bu":1.05329,"bl":1.051},
{"t":"2022-05-02T10:00","ym":1.05218,"gm":1.052,"bu":1.05474,"bl":1.0505},
{"t":"2022-05-02T10:15","ym":1.05239,"gm":1.05237,"bu":1.05582,"bl":1.04989},
{"t":"2022-05-02T10:30","ym":1.05255,"gm":1.05276,"bu":1.05645,"bl":1.05066},
{"t":"2022-05-02T10:45","ym":1.05266,"gm":1.05303,"bu":1.05658,"bl":1.05132},
{"t":"2022-05-02T11:00","ym":1.05274,"gm":1.05318,"bu":1.05637,"bl":1.05182},
{"t":"2022-05-02T11:15","ym":1.05279,"gm":1.05329,"bu":1.05605,"bl":1.05218},
{"t":"2022-05-02T11:30","ym":1.05284,"gm":1.05339,"bu":1.05595,"bl":1.05232},
{"t":"2022-05-02T11:45","ym":1.05292,"gm":1.05358,"bu":1.05553,"bl":1.05237},
{"t":"2022-05-02T12:00","ym":1.05297,"gm":1.05374,"bu":1.05474,"bl":1.05242},
{"t":"2022-05-02T12:15","ym":1.05303,"gm":1.05376,"bu":1.05421,"bl":1.05237},
{"t":"2022-05-02T12:30","ym":1.05305,"gm":1.05355,"bu":1.05355,"bl":1.05218},
{"t":"2022-05-02T12:45","ym":1.05308,"gm":1.05329,"bu":1.05337,"bl":1.05203},
{"t":"2022-05-02T13:00","ym":1.05311,"gm":1.053,"bu":1.05326,"bl":1.05197},
{"t":"2022-05-02T13:30","ym":1.05316,"gm":1.05266,"bu":1.05316,"bl":1.05192},
{"t":"2022-05-02T14:00","ym":1.05318,"gm":1.05255,"bu":1.05305,"bl":1.05195},
{"t":"2022-05-02T14:30","ym":1.05282,"gm":1.05245,"bu":1.05297,"bl":1.05197},
{"t":"2022-05-02T15:00","ym":1.05261,"gm":1.05237,"bu":1.05295,"bl":1.05197},
{"t":"2022-05-02T15:30","ym":1.0525,"gm":1.05234,"bu":1.05303,"bl":1.05189},
{"t":"2022-05-02T16:00","ym":1.05237,"gm":1.05232,"bu":1.05324,"bl":1.05158},
{"t":"2022-05-02T16:30","ym":1.05218,"gm":1.05205,"bu":1.05339,"bl":1.05066},
{"t":"2022-05-02T17:00","ym":1.05218,"gm":1.05203,"bu":1.05361,"bl":1.05039},
{"t":"2022-05-02T17:30","ym":1.05224,"gm":1.05211,"bu":1.05408,"bl":1.05045},
{"t":"2022-05-02T18:00","ym":1.05229,"gm":1.05224,"bu":1.05437,"bl":1.05066},
{"t":"2022-05-02T18:30","ym":1.05208,"gm":1.05203,"bu":1.05434,"bl":1.05},
{"t":"2022-05-02T19:00","ym":1.05205,"gm":1.05203,"bu":1.05395,"bl":1.04982},
{"t":"2022-05-02T19:30","ym":1.05205,"gm":1.05205,"bu":1.05295,"bl":1.05018},
{"t":"2022-05-02T20:00","ym":1.05187,"gm":1.05174,"bu":1.05297,"bl":1.05008},
{"t":"2022-05-02T20:30","ym":1.05179,"gm":1.05137,"bu":1.05303,"bl":1.04987},
{"t":"2022-05-02T21:00","ym":1.05153,"gm":1.05113,"bu":1.05268,"bl":1.04929},
{"t":"2022-05-02T21:30","ym":1.05118,"gm":1.05066,"bu":1.05126,"bl":1.04895},
{"t":"2022-05-02T22:00","ym":1.05071,"gm":1.05018,"bu":1.05074,"bl":1.04908},
{"t":"2022-05-02T22:30","ym":1.05061,"gm":1.04995,"bu":1.05124,"bl":1.04947},
{"t":"2022-05-02T23:00","ym":1.05053,"gm":1.04997,"bu":1.05126,"bl":1.04976},
{"t":"2022-05-02T23:30","ym":1.05037,"gm":1.05008,"bu":1.05137,"bl":1.04989},
{"t":"2022-05-03T00:00","ym":1.05024,"gm":1.05018,"bu":1.05105,"bl":1.05005},
{"t":"2022-05-03T00:30","ym":1.05021,"gm":1.05047,"bu":1.05105,"bl":1.05013},
{"t":"2022-05-03T01:00","ym":1.05026,"gm":1.05063,"bu":1.05129,"bl":1.05021},
{"t":"2022-05-03T01:30","ym":1.05042,"gm":1.05079,"bu":1.05142,"bl":1.05029},
{"t":"2022-05-03T02:00","ym":1.05061,"gm":1.05089,"bu":1.0515,"bl":1.05039},
{"t":"2022-05-03T02:30","ym":1.05074,"gm":1.05087,"bu":1.05139,"bl":1.05047},
{"t":"2022-05-03T03:00","ym":1.05074,"gm":1.05095,"bu":1.05129,"bl":1.05053},
{"t":"2022-05-03T03:30","ym":1.05082,"gm":1.05105,"bu":1.05158,"bl":1.05039},
{"t":"2022-05-03T04:00","ym":1.051,"gm":1.05129,"bu":1.05274,"bl":1.05021},
{"t":"2022-05-03T04:30","ym":1.05116,"gm":1.05145,"bu":1.05282,"bl":1.05053},
{"t":"2022-05-03T05:00","ym":1.05132,"gm":1.05163,"bu":1.05276,"bl":1.05097},
{"t":"2022-05-03T05:30","ym":1.0515,"gm":1.05189,"bu":1.05282,"bl":1.05108},
{"t":"2022-05-03T06:00","ym":1.05161,"gm":1.052,"bu":1.05245,"bl":1.05108},
{"t":"2022-05-03T06:30","ym":1.05171,"gm":1.05189,"bu":1.05218,"bl":1.05105},
{"t":"2022-05-03T07:00","ym":1.05176,"gm":1.05179,"bu":1.05224,"bl":1.05108},
{"t":"2022-05-03T07:30","ym":1.05179,"gm":1.05179,"bu":1.05242,"bl":1.05103},
{"t":"2022-05-03T08:00","ym":1.05168,"gm":1.05147,"bu":1.05253,"bl":1.05061},
{"t":"2022-05-03T08:30","ym":1.0515,"gm":1.05134,"bu":1.05234,"bl":1.05011},
{"t":"2022-05-03T09:00","ym":1.05139,"gm":1.05116,"bu":1.05192,"bl":1.04992}
],
"grid":[
{"t":"2022-05-02T08:05"},{"t":"2022-05-02T08:45"},{"t":"2022-05-02T09:25"},{"t":"2022-05-02T10:05"},{"t":"2022-05-02T10:45"},{"t":"2022-05-02T11:25"},{"t":"2022-05-02T12:05"},{"t":"2022-05-02T12:45"},{"t":"2022-05-02T13:25"},{"t":"2022-05-02T14:05"},{"t":"2022-05-02T14:45"},{"t":"2022-05-02T15:25"},{"t":"2022-05-02T16:05"},{"t":"2022-05-02T16:45"},{"t":"2022-05-02T17:25"},{"t":"2022-05-02T18:05"},{"t":"2022-05-02T18:45"},{"t":"2022-05-02T19:25"},{"t":"2022-05-02T20:05"},{"t":"2022-05-02T20:45"},{"t":"2022-05-02T21:25"},{"t":"2022-05-02T22:05"},{"t":"2022-05-02T22:45"},{"t":"2022-05-02T23:25"},{"t":"2022-05-03T00:05"},{"t":"2022-05-03T00:45"},{"t":"2022-05-03T01:25"},{"t":"2022-05-03T02:05"},{"t":"2022-05-03T02:45"},{"t":"2022-05-03T03:25"},{"t":"2022-05-03T04:05"},{"t":"2022-05-03T04:45"},{"t":"2022-05-03T05:25"},{"t":"2022-05-03T06:05"},{"t":"2022-05-03T06:45"},{"t":"2022-05-03T07:25"},{"t":"2022-05-03T08:05"},{"t":"2022-05-03T08:45"}
]
},
"vconcat":[
{"width":870,"height":420,
"layer":[
{"data":{"values":[{"t":"2022-05-02T08:19:30","t2":"2022-05-02T09:59:30","p1":1.05182,"p2":1.05089}]},
"mark":{"type":"rect","color":"#5a9a9a"},
"encoding":{
"x":{"field":"t","type":"temporal","title":null,"scale":{"domain":[{"year":2022,"month":5,"date":2,"hours":7,"minutes":43,"seconds":15},{"year":2022,"month":5,"date":3,"hours":9,"minutes":7}]},
"axis":{"orient":"top","title":null,"grid":true,"labels":false,"ticks":false,"domain":false,"gridColor":"#c8c8c8","gridDash":[3,3],"gridWidth":1,
"values":[{"year":2022,"month":5,"date":2,"hours":8,"minutes":5},{"year":2022,"month":5,"date":2,"hours":8,"minutes":45},{"year":2022,"month":5,"date":2,"hours":9,"minutes":25},{"year":2022,"month":5,"date":2,"hours":10,"minutes":5},{"year":2022,"month":5,"date":2,"hours":10,"minutes":45},{"year":2022,"month":5,"date":2,"hours":11,"minutes":25},{"year":2022,"month":5,"date":2,"hours":12,"minutes":5},{"year":2022,"month":5,"date":2,"hours":12,"minutes":45},{"year":2022,"month":5,"date":2,"hours":13,"minutes":25},{"year":2022,"month":5,"date":2,"hours":14,"minutes":5},{"year":2022,"month":5,"date":2,"hours":14,"minutes":45},{"year":2022,"month":5,"date":2,"hours":15,"minutes":25},{"year":2022,"month":5,"date":2,"hours":16,"minutes":5},{"year":2022,"month":5,"date":2,"hours":16,"minutes":45},{"year":2022,"month":5,"date":2,"hours":17,"minutes":25},{"year":2022,"month":5,"date":2,"hours":18,"minutes":5},{"year":2022,"month":5,"date":2,"hours":18,"minutes":45},{"year":2022,"month":5,"date":2,"hours":19,"minutes":25},{"year":2022,"month":5,"date":2,"hours":20,"minutes":5},{"year":2022,"month":5,"date":2,"hours":20,"minutes":45},{"year":2022,"month":5,"date":2,"hours":21,"minutes":25},{"year":2022,"month":5,"date":2,"hours":22,"minutes":5},{"year":2022,"month":5,"date":2,"hours":22,"minutes":45},{"year":2022,"month":5,"date":2,"hours":23,"minutes":25},{"year":2022,"month":5,"date":3,"hours":0,"minutes":5},{"year":2022,"month":5,"date":3,"hours":0,"minutes":45},{"year":2022,"month":5,"date":3,"hours":1,"minutes":25},{"year":2022,"month":5,"date":3,"hours":2,"minutes":5},{"year":2022,"month":5,"date":3,"hours":2,"minutes":45},{"year":2022,"month":5,"date":3,"hours":3,"minutes":25},{"year":2022,"month":5,"date":3,"hours":4,"minutes":5},{"year":2022,"month":5,"date":3,"hours":4,"minutes":45},{"year":2022,"month":5,"date":3,"hours":5,"minutes":25},{"year":2022,"month":5,"date":3,"hours":6,"minutes":5},{"year":2022,"month":5,"date":3,"hours":6,"minutes":45},{"year":2022,"month":5,"date":3,"hours":7,"minutes":25},{"year":2022,"month":5,"date":3,"hours":8,"minutes":5},{"year":2022,"month":5,"date":3,"hours":8,"minutes":45}]}},
"x2":{"field":"t2"},
"y":{"field":"p1","type":"quantitative","title":null,"scale":{"domain":[1.048,1.059053],"zero":false,"nice":false},
"axis":{"orient":"right","title":null,"values":[1.0485,1.0495,1.0505,1.0515,1.0525,1.0535,1.0545,1.0555,1.0565,1.0575,1.0585],"format":".4f","labelExpr":"abs(datum.value-1.0565)<0.00001||abs(datum.value-1.0505)<0.00001?'':datum.label","grid":true,"gridColor":"#c8c8c8","gridDash":[3,3],"gridWidth":1,"ticks":true,"tickSize":3,"tickColor":"#000000","labels":true,"labelPadding":2,"labelFontSize":7,"labelFont":"Liberation Sans","labelColor":"#000000","domain":false}},
"y2":{"field":"p2"}}},
{"data":{"name":"ind"},"mark":{"type":"line","color":"#c58cf0","strokeWidth":1,"strokeDash":[2,2],"interpolate":"monotone"},
"encoding":{"x":{"field":"t","type":"temporal","title":null},"y":{"field":"bu","type":"quantitative","title":null}}},
{"data":{"name":"ind"},"mark":{"type":"line","color":"#c58cf0","strokeWidth":1,"strokeDash":[2,2],"interpolate":"monotone"},
"encoding":{"x":{"field":"t","type":"temporal","title":null},"y":{"field":"bl","type":"quantitative","title":null}}},
{"data":{"values":[{}]},"mark":{"type":"rule","color":"#303030","strokeDash":[1,2],"strokeWidth":1},
"encoding":{"x":{"datum":{"year":2022,"month":5,"date":3,"hours":0,"minutes":0},"type":"temporal","title":null}}},
{"data":{"name":"k"},"mark":{"type":"rule","color":"#454545","strokeWidth":1},
"encoding":{"x":{"field":"t","type":"temporal","title":null},"y":{"field":"l","type":"quantitative","title":null},"y2":{"field":"h"}}},
{"data":{"name":"k"},"mark":{"type":"bar","width":2,"strokeWidth":0.6},
"encoding":{"x":{"field":"t","type":"temporal","title":null},"y":{"field":"o","type":"quantitative","title":null},"y2":{"field":"c"},
"fill":{"condition":{"test":"datum.c>=datum.o","value":"#bdbdbd"},"value":"#000000"},
"stroke":{"condition":{"test":"datum.c>=datum.o","value":"#666666"},"value":"#000000"}}},
{"data":{"name":"ind"},"mark":{"type":"line","color":"#ffff00","strokeWidth":2.5,"interpolate":"monotone"},
"encoding":{"x":{"field":"t","type":"temporal","title":null},"y":{"field":"ym","type":"quantitative","title":null}}},
{"data":{"name":"ind"},"mark":{"type":"line","color":"#0b7a0b","strokeWidth":2.5,"interpolate":"monotone"},
"encoding":{"x":{"field":"t","type":"temporal","title":null},"y":{"field":"gm","type":"quantitative","title":null}}},
{"data":{"values":[{"p":1.0501}]},"mark":{"type":"rule","color":"#c4c4c4","strokeWidth":1.5},
"encoding":{"y":{"field":"p","type":"quantitative","title":null}}},
{"data":{"values":[{"p":1.0504}]},"mark":{"type":"rule","color":"#ff7f50","strokeWidth":1},
"encoding":{"y":{"field":"p","type":"quantitative","title":null}}},
{"data":{"values":[{"p":1.0565},{"p":1.0519}]},"mark":{"type":"rule","color":"#ff0000","strokeWidth":2},
"encoding":{"y":{"field":"p","type":"quantitative","title":null}}},
{"data":{"values":[{"t":"2022-05-02T13:24:45","p":1.05184,"g":"u"},{"t":"2022-05-03T09:07","p":1.05297,"g":"u"},{"t":"2022-05-02T13:24:45","p":1.04863,"g":"l"},{"t":"2022-05-03T09:07","p":1.04982,"g":"l"}]},
"mark":{"type":"line","color":"#3ddc3d","strokeWidth":2},
"encoding":{"x":{"field":"t","type":"temporal","title":null},"y":{"field":"p","type":"quantitative","title":null},"detail":{"field":"g"}}},
{"data":{"values":[{"t":"2022-05-02T13:24:45","p":1.05024},{"t":"2022-05-03T09:07","p":1.05145}]},
"mark":{"type":"line","color":"#3ddc3d","strokeWidth":1,"strokeDash":[3,3]},
"encoding":{"x":{"field":"t","type":"temporal","title":null},"y":{"field":"p","type":"quantitative","title":null}}},
{"data":{"values":[{"p":1.0565},{"p":1.0519}]},
"mark":{"type":"point","shape":"M-1,-0.37L1,-0.37L1,0.37L-1,0.37Z","size":729,"filled":true,"opacity":1,"color":"#ff0000","strokeWidth":0},
"encoding":{"x":{"datum":{"year":2022,"month":5,"date":3,"hours":9,"minutes":33},"type":"temporal","title":null},"y":{"field":"p","type":"quantitative","title":null}}},
{"data":{"values":[{"p":1.0504}]},
"mark":{"type":"point","shape":"M-1,-0.37L1,-0.37L1,0.37L-1,0.37Z","size":729,"filled":true,"opacity":1,"color":"#ff6a2a","strokeWidth":0},
"encoding":{"x":{"datum":{"year":2022,"month":5,"date":3,"hours":9,"minutes":33},"type":"temporal","title":null},"y":{"field":"p","type":"quantitative","title":null}}},
{"data":{"values":[{"p":1.0501}]},
"mark":{"type":"point","shape":"M-1,-0.37L1,-0.37L1,0.37L-1,0.37Z","size":729,"filled":true,"opacity":1,"color":"#000000","strokeWidth":0},
"encoding":{"x":{"datum":{"year":2022,"month":5,"date":3,"hours":9,"minutes":33},"type":"temporal","title":null},"y":{"field":"p","type":"quantitative","title":null}}},
{"data":{"values":[{"p":1.0565},{"p":1.0519},{"p":1.0504},{"p":1.0501}]},
"mark":{"type":"text","color":"#ffffff","fontSize":7,"font":"Liberation Sans","align":"center","baseline":"middle"},
"encoding":{"x":{"datum":{"year":2022,"month":5,"date":3,"hours":9,"minutes":33},"type":"temporal","title":null},"y":{"field":"p","type":"quantitative","title":null},"text":{"field":"p","type":"quantitative","format":".4f"}}}
]},
{"width":870,"height":103,
"resolve":{"axis":{"x":"independent"}},
"layer":[
{"data":{"name":"grid"},"mark":{"type":"rule","color":"#c8c8c8","strokeDash":[3,3],"strokeWidth":1},
"encoding":{"x":{"field":"t","type":"temporal","title":null,"axis":null}}},
{"data":{"name":"k"},"mark":{"type":"bar","width":2},
"encoding":{
"x":{"field":"t","type":"temporal","title":null,"axis":null,"scale":{"domain":[{"year":2022,"month":5,"date":2,"hours":7,"minutes":43,"seconds":15},{"year":2022,"month":5,"date":3,"hours":9,"minutes":7}]}},
"y":{"field":"v","type":"quantitative","title":null,"scale":{"domain":[0,348],"nice":false},
"axis":{"orient":"right","title":null,"values":[0,328],"grid":false,"tickSize":3,"tickColor":"#000000","labelPadding":2,"labelFontSize":7,"labelFont":"Liberation Sans","labelColor":"#000000","labelFlush":true,"domain":false}},
"color":{"field":"d","type":"nominal","scale":{"domain":["g","r"],"range":["#0a8a0a","#ff0000"]},"legend":null}}},
{"data":{"values":[{}]},"mark":{"type":"rule","color":"#303030","strokeDash":[1,2],"strokeWidth":1},
"encoding":{"x":{"datum":{"year":2022,"month":5,"date":3,"hours":0,"minutes":0},"type":"temporal","title":null,
"axis":{"orient":"bottom","title":null,"grid":false,"ticks":false,"domain":false,"labels":true,"format":"%-d %b %H:%M","labelAlign":"left","labelBaseline":"top","labelPadding":2,"labelFontSize":7,"labelFont":"Liberation Sans","labelColor":"#000000","labelOverlap":false,"labelFlush":false,
"values":[{"year":2022,"month":5,"date":2,"hours":8,"minutes":45},{"year":2022,"month":5,"date":2,"hours":10,"minutes":5},{"year":2022,"month":5,"date":2,"hours":11,"minutes":25},{"year":2022,"month":5,"date":2,"hours":12,"minutes":45},{"year":2022,"month":5,"date":2,"hours":14,"minutes":5},{"year":2022,"month":5,"date":2,"hours":15,"minutes":25},{"year":2022,"month":5,"date":2,"hours":16,"minutes":45},{"year":2022,"month":5,"date":2,"hours":18,"minutes":5},{"year":2022,"month":5,"date":2,"hours":19,"minutes":25},{"year":2022,"month":5,"date":2,"hours":20,"minutes":45},{"year":2022,"month":5,"date":2,"hours":22,"minutes":5},{"year":2022,"month":5,"date":2,"hours":23,"minutes":25},{"year":2022,"month":5,"date":3,"hours":0,"minutes":45},{"year":2022,"month":5,"date":3,"hours":2,"minutes":5},{"year":2022,"month":5,"date":3,"hours":3,"minutes":25},{"year":2022,"month":5,"date":3,"hours":4,"minutes":45},{"year":2022,"month":5,"date":3,"hours":6,"minutes":5},{"year":2022,"month":5,"date":3,"hours":7,"minutes":25},{"year":2022,"month":5,"date":3,"hours":8,"minutes":45}]}}}}
]}
]
}
